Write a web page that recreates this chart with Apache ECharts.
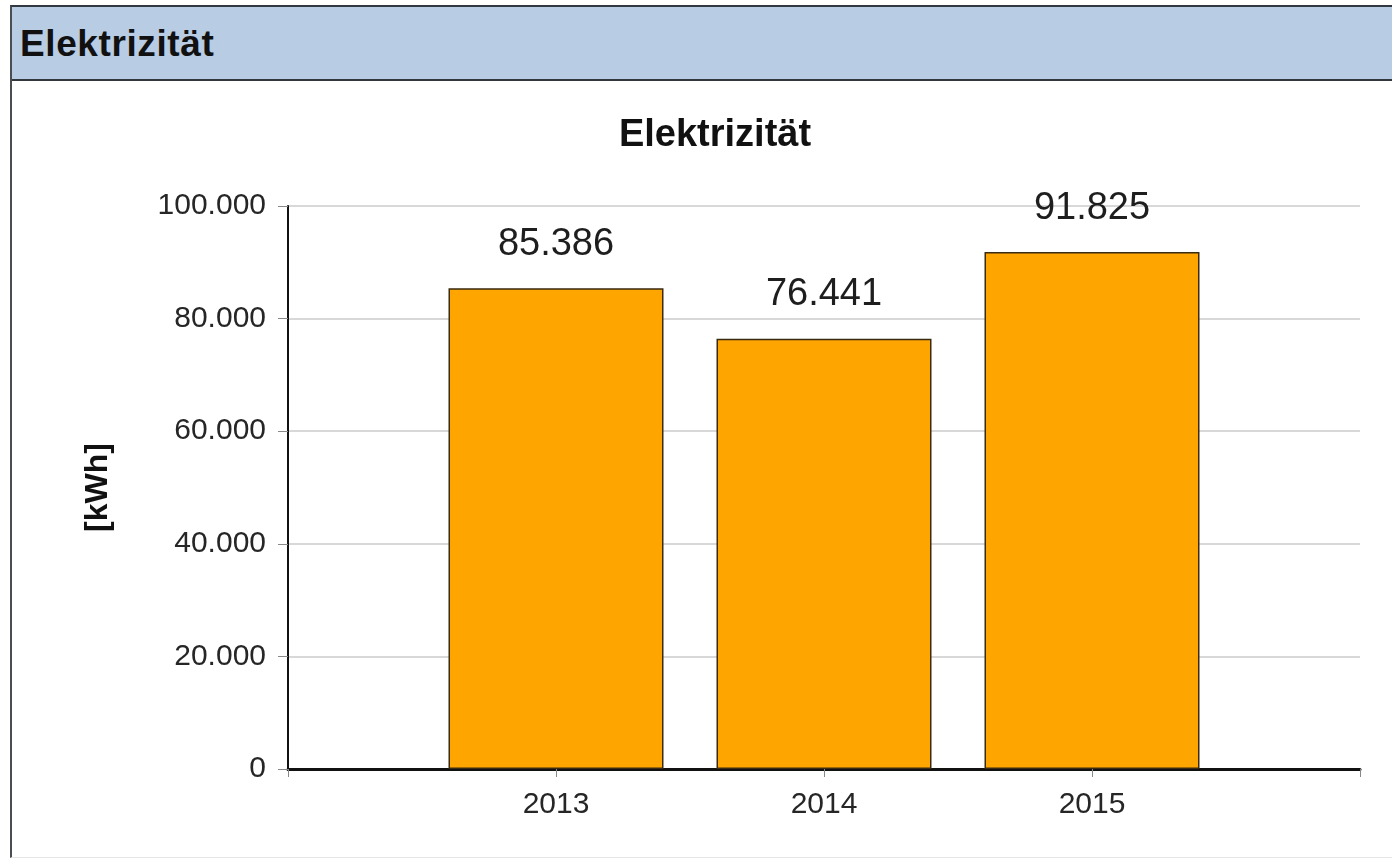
<!DOCTYPE html>
<html>
<head>
<meta charset="utf-8">
<title>Elektrizität</title>
<script src="https://cdn.jsdelivr.net/npm/echarts@6/dist/echarts.min.js"></script>
<style>
  html, body { margin: 0; padding: 0; background: #ffffff; }
  body { width: 1392px; height: 864px; position: relative; overflow: hidden;
         font-family: "Liberation Sans", Arial, sans-serif; }
  .panel { position: absolute; left: 10px; top: 5px; width: 1400px; height: 853px;
           border-left: 2px solid #4a4d52; border-top: 2px solid #33383f;
           border-bottom: 1px solid #e6e6e6; box-sizing: border-box; }
  .panel-head { position: absolute; left: 0; top: 0; right: 0; height: 74px;
                background: #b8cce4; border-bottom: 2px solid #33383f; box-sizing: border-box; }
  .panel-head span { position: absolute; left: 8px; top: 16px; font-size: 37px;
                     font-weight: bold; color: #111; letter-spacing: 0.6px; }
  #chart { position: absolute; left: 0; top: 0; width: 1392px; height: 864px; }
</style>
</head>
<body>
<div class="panel"><div class="panel-head"><span>Elektrizität</span></div></div>
<div id="chart"></div>
<script>
// Annual electricity consumption in kWh
const years = ['2013', '2014', '2015'];
const consumption = [85386, 76441, 91825];
const yMin = 0;
const yMax = 100000;
const yStep = 20000;

// German thousands separator: 85386 -> "85.386"
function fmt(v) {
  return String(Math.round(v)).replace(/\B(?=(\d{3})+(?!\d))/g, '.');
}

// Empty slots on each side keep the bars away from the axis ends
const categories = [''].concat(years, ['']);
const seriesData = ['-'].concat(consumption, ['-']);

const chart = echarts.init(document.getElementById('chart'), null, { renderer: 'canvas' });
chart.setOption({
  animation: false,
  backgroundColor: 'transparent',
  title: {
    text: 'Elektrizität',
    left: 710,
    top: 112,
    textAlign: 'center',
    textStyle: { fontFamily: 'Liberation Sans', fontSize: 38, fontWeight: 'bold', color: '#111' }
  },
  grid: { left: 288, right: 32, top: 206, bottom: 95, containLabel: false },
  xAxis: {
    type: 'category',
    data: categories,
    boundaryGap: false,
    axisLine: { lineStyle: { color: '#111', width: 3 } },
    axisTick: { show: true, interval: 0, length: 8, lineStyle: { color: '#888', width: 1 } },
    axisLabel: { interval: 0, margin: 21, fontFamily: 'Liberation Sans', fontSize: 30, color: '#262626' },
    splitLine: { show: false }
  },
  yAxis: {
    type: 'value',
    min: yMin,
    max: yMax,
    interval: yStep,
    name: '[kWh]',
    nameLocation: 'middle',
    nameRotate: 90,
    nameGap: 174,
    nameTextStyle: { fontFamily: 'Liberation Sans', fontSize: 32, fontWeight: 'bold', color: '#111' },
    axisLine: { show: true, lineStyle: { color: '#111', width: 2 } },
    axisTick: { show: true, length: 10, lineStyle: { color: '#888', width: 1 } },
    axisLabel: { margin: 22, fontFamily: 'Liberation Sans', fontSize: 30, color: '#262626', formatter: fmt },
    splitLine: { show: true, lineStyle: { color: '#d8d8d8', width: 2 } }
  },
  series: [{
    type: 'bar',
    data: seriesData,
    barWidth: 215,
    itemStyle: { color: '#ffa500', borderColor: '#3a2a10', borderWidth: 1.5 },
    label: {
      show: true,
      position: 'top',
      distance: 25,
      fontFamily: 'Liberation Sans',
      fontSize: 38,
      color: '#1e1e1e',
      formatter: p => fmt(p.value)
    }
  }]
});
</script>
</body>
</html>
